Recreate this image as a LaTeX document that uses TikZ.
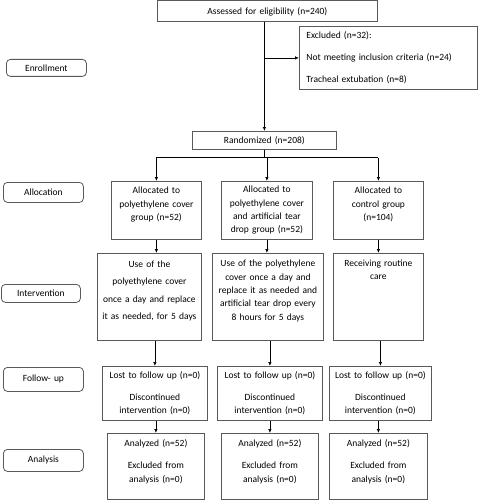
\documentclass[tikz,border=0pt]{standalone}
\usepackage{fontspec}
\setmainfont{Carlito}
\usetikzlibrary{arrows.meta}

\begin{document}
\begin{tikzpicture}[x=1pt, y=-1pt,
  box/.style={draw=black!65, line width=0.8pt, align=center, inner sep=0pt,
    font=\fontsize{9.5}{13.3}\selectfont},
  stage/.style={draw=black!65, line width=0.8pt, rounded corners=4pt, inner sep=0pt,
    text width=80pt, align=center, font=\fontsize{9.5}{13.3}\selectfont},
  link/.style={line width=0.7pt, -{Latex[length=4pt, width=3.5pt]}}]

\useasboundingbox (0,0) rectangle (478,500);

% Enrollment
\node[box, anchor=north west, text width=220pt, minimum height=21pt] (assess) at (157,0.5) {Assessed for eligibility (n=240)};
\node[box, anchor=north west, align=left, text width=164pt, inner xsep=7pt, minimum height=63pt] (excl) at (299,26)
  {Excluded (n=32):\\[8.7pt]Not meeting inclusion criteria (n=24)\\[8.7pt]Tracheal extubation (n=8)};
\node[box, anchor=north west, text width=144pt, minimum height=18pt] (rand) at (192,131) {Randomized (n=208)};

% Allocation boxes
\node[box, anchor=north west, text width=90pt, minimum height=58pt] (a1) at (111,181) {Allocated to\\polyethylene cover\\group (n=52)\\\mbox{}};
\node[box, anchor=north west, text width=91pt, minimum height=58pt] (a2) at (221,181) {Allocated to\\polyethylene cover\\and artificial tear\\drop group (n=52)};
\node[box, anchor=north west, text width=90pt, minimum height=58pt] (a3) at (333,181) {Allocated to\\control group\\(n=104)\\\mbox{}};

% Intervention boxes
\node[box, anchor=north west, text width=104pt, minimum height=87pt, font=\fontsize{9.5}{17.3}\selectfont] (i1) at (97,253)
  {Use of the\\polyethylene cover\\once a day and replace\\it as needed, for 5 days\\[-4pt]\mbox{}};
\node[box, anchor=north west, text width=111pt, minimum height=87pt] (i2) at (212,253)
  {Use of the polyethylene\\cover once a day and\\replace it as needed and\\artificial tear drop every\\8 hours for 5 days\\\mbox{}};
\node[box, anchor=north west, text width=90pt, minimum height=87pt] (i3) at (333,253) {Receiving routine\\care\\[40.7pt]\mbox{}};

% Follow-up boxes
\node[box, anchor=north west, text width=105pt, minimum height=54pt] (f1) at (102,366) {Lost to follow up (n=0)\\[8.7pt]Discontinued\\intervention (n=0)};
\node[box, anchor=north west, text width=105pt, minimum height=54pt] (f2) at (217,366) {Lost to follow up (n=0)\\[8.7pt]Discontinued\\intervention (n=0)};
\node[box, anchor=north west, text width=102pt, minimum height=54pt] (f3) at (329,366) {Lost to follow up (n=0)\\[8.7pt]Discontinued\\intervention (n=0)};

% Analysis boxes
\foreach \n/\x/\w in {1/107/97, 2/221/97, 3/329/98}
  \node[box, anchor=north west, text width=\w pt, minimum height=66pt] (n\n) at (\x,433)
    {Analyzed (n=52)\\[8.7pt]Excluded from\\analysis (n=0)\\[-2.3pt]\mbox{}};

% Stage labels
\node[stage, anchor=north west, minimum height=17pt] (senr) at (6,59) {Enrollment};
\node[stage, anchor=north west, minimum height=20pt] (sall) at (3,182) {Allocation};
\node[stage, anchor=north west, minimum height=18pt, text width=79pt] (sint) at (1,284) {Intervention};
\node[stage, anchor=north west, minimum height=24pt] (sfol) at (3,367) {Follow- up};
\node[stage, anchor=north west, minimum height=22pt] (sana) at (3,449) {Analysis};

% Connections
\draw[link] (assess.south -| rand.north) -- (rand.north);
\draw[link] (excl.west -| rand.north) -- (excl.west);
\draw[line width=0.7pt] (rand.south) -- ++(0,8) coordinate (split);
\draw[line width=0.7pt] (split -| a1.north) -- (split -| a3.north);
\foreach \k in {1,2,3}
  \draw[link] (split -| a\k.north) -- (a\k.north);
\foreach \k in {1,2,3}{
  \draw[link] (a\k.south) -- (a\k.south |- i\k.north);
  \draw[link] (f\k.north |- i\k.south) -- (f\k.north);
  \draw[link] (n\k.north |- f\k.south) -- (n\k.north);
}

\end{tikzpicture}
\end{document}
